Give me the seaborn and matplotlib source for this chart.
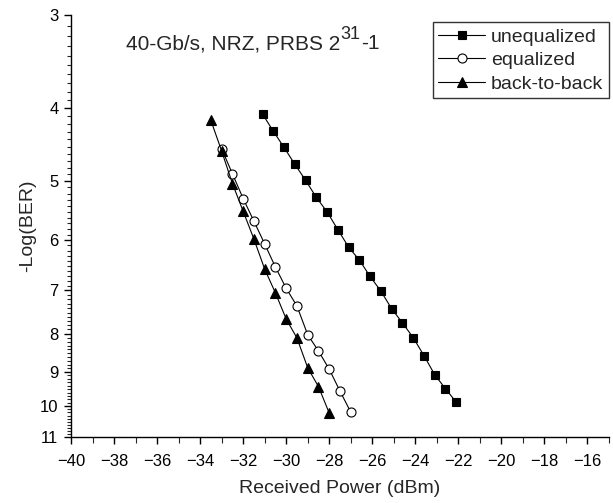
import numpy as np
import pandas as pd
import matplotlib
matplotlib.use("Agg")
import matplotlib.pyplot as plt
from matplotlib.ticker import FixedLocator, FixedFormatter, NullFormatter, MultipleLocator
import seaborn as sns

# ---- data ----
unequalized_power = [-31.1, -30.6, -30.1, -29.6, -29.1, -28.6, -28.1, -27.6, -27.1, -26.6,
                     -26.1, -25.6, -25.1, -24.6, -24.1, -23.6, -23.1, -22.6, -22.1]
unequalized_ber = [4.07, 4.29, 4.51, 4.75, 4.99, 5.26, 5.50, 5.81, 6.13, 6.38,
                   6.71, 7.02, 7.41, 7.74, 8.10, 8.56, 9.08, 9.48, 9.88]

equalized_power = [-33.0, -32.5, -32.0, -31.5, -31.0, -30.5, -30.0, -29.5, -29.0, -28.5,
                   -28.0, -27.5, -27.0]
equalized_ber = [4.53, 4.89, 5.28, 5.66, 6.07, 6.52, 6.96, 7.35, 8.03, 8.44,
                 8.93, 9.55, 10.19]

b2b_power = [-33.5, -33.0, -32.5, -32.0, -31.5, -31.0, -30.5, -30.0, -29.5, -29.0,
             -28.5, -28.0]
b2b_ber = [4.15, 4.56, 5.04, 5.49, 5.98, 6.56, 7.06, 7.65, 8.11, 8.89, 9.42, 10.22]

x_ticks = list(range(-40, -15, 2))
y_ticks = [3, 4, 5, 6, 7, 8, 9, 10, 11]
y_tick_labels = [str(v) for v in y_ticks]

title_main = "40-Gb/s, NRZ, PRBS 2"
title_sup = "31"
title_tail = "-1"
x_label = "Received Power (dBm)"
y_label = "-Log(BER)"

# ---- style ----
sns.set_style("ticks")
plt.rcParams["font.family"] = ["Liberation Sans", "DejaVu Sans"]

fig = plt.figure(figsize=(6.13, 5.03), dpi=100)
ax = fig.add_axes([71 / 613, 1 - 437 / 503, (609 - 71) / 613, (437 - 15) / 503])

series = [
    ("unequalized", unequalized_power, unequalized_ber, "s", "black", 6.0),
    ("equalized", equalized_power, equalized_ber, "o", "white", 6.5),
    ("back-to-back", b2b_power, b2b_ber, "^", "black", 7.5),
]
for name, xs, ys, mk, fc, ms in series:
    df = pd.DataFrame({"power": xs, "ber": ys})
    sns.lineplot(data=df, x="power", y="ber", ax=ax, color="black", linewidth=0.8,
                 marker=mk, markersize=ms, markerfacecolor=fc,
                 markeredgecolor="black", markeredgewidth=0.8, label=name,
                 sort=False, estimator=None)

ax.set_yscale("log")
ax.set_ylim(11, 3)
ax.set_xlim(-40, -15)

ax.yaxis.set_major_locator(FixedLocator(y_ticks))
ax.yaxis.set_major_formatter(FixedFormatter(y_tick_labels))
ax.yaxis.set_minor_locator(FixedLocator(np.round(np.arange(3.0, 11.0001, 0.1), 2)))
ax.yaxis.set_minor_formatter(NullFormatter())
ax.xaxis.set_major_locator(FixedLocator(x_ticks))
ax.xaxis.set_minor_locator(MultipleLocator(1))

for sp in ("top", "right"):
    ax.spines[sp].set_visible(False)
for sp in ("left", "bottom"):
    ax.spines[sp].set_linewidth(1.0)
    ax.spines[sp].set_color("black")

ax.tick_params(axis="both", which="major", direction="out", length=5, width=1.0,
               labelsize=12, colors="black")
ax.tick_params(axis="x", which="major", pad=7)
ax.tick_params(axis="y", which="major", pad=4)
ax.tick_params(axis="x", which="minor", direction="out", length=4, width=0.8)
ax.tick_params(axis="y", which="minor", direction="out", length=3, width=0.8)

ax.set_xlabel(x_label, fontsize=14, labelpad=8)
ax.set_ylabel(y_label, fontsize=14, labelpad=3)

t1 = ax.text(0.102, 0.919, title_main, transform=ax.transAxes, ha="left",
             va="baseline", fontsize=15)
t2 = ax.annotate(title_sup, xy=(1, 0), xycoords=t1, xytext=(0.5, 7),
                 textcoords="offset points", ha="left", va="bottom", fontsize=13)
t3 = ax.annotate(title_tail, xy=(1, 0), xycoords=t2, xytext=(0.5, -7),
                 textcoords="offset points", ha="left", va="bottom", fontsize=15)

leg = ax.legend(loc="upper right", bbox_to_anchor=(1.0, 0.983), borderaxespad=0,
                fontsize=14, frameon=True, fancybox=False, handlelength=2.4,
                labelspacing=0.3, handletextpad=0.3, borderpad=0.3)
leg.get_frame().set_edgecolor("black")
leg.get_frame().set_linewidth(1.0)

fig.savefig("out.png", dpi=100)
